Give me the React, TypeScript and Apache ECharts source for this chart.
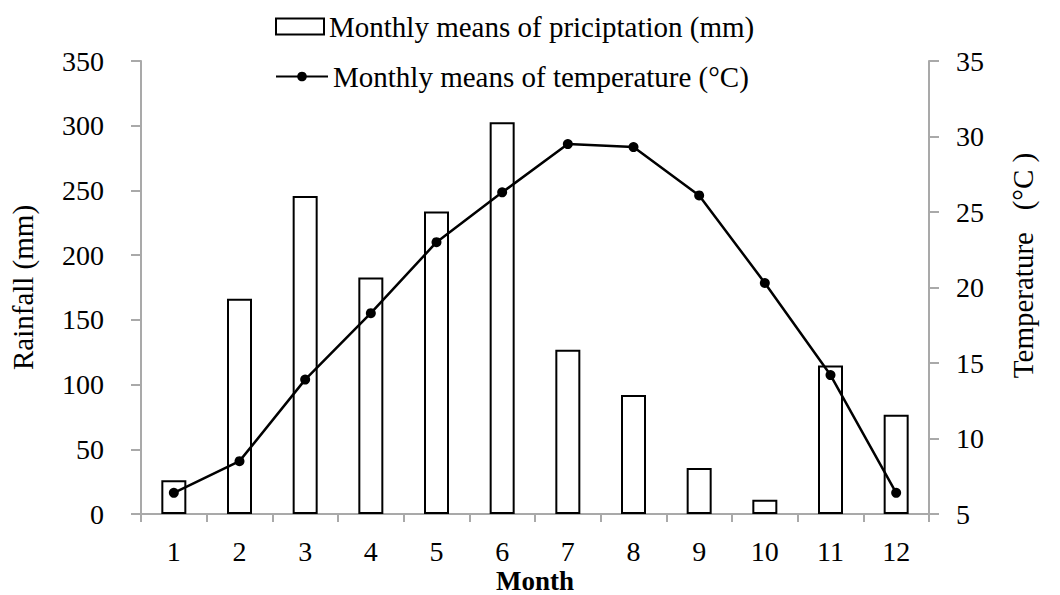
import React, { useEffect, useRef } from "react";
import * as echarts from "echarts";

const months = ["1", "2", "3", "4", "5", "6", "7", "8", "9", "10", "11", "12"];
const rainfall = [26, 166.4, 245.7, 182.8, 233.8, 302.6, 127, 91.9, 35.5, 11, 114.8, 76.7];
const temperature = [6.4, 8.5, 13.9, 18.3, 23.0, 26.3, 29.5, 29.3, 26.1, 20.3, 14.2, 6.4];
const rainName = "Monthly means of priciptation (mm)";
const tempName = "Monthly means of temperature (°C)";

const FONT = "'Liberation Serif', 'Times New Roman', serif";
const AXIS_GRAY = "#a9a9a9";

export default function App() {
  const ref = useRef<HTMLDivElement>(null);
  useEffect(() => {
    if (!ref.current) return;
    const chart = echarts.init(ref.current, undefined, { renderer: "svg" });
    chart.setOption({
      animation: false,
      backgroundColor: "#ffffff",
      textStyle: { fontFamily: FONT, color: "#000" },
      grid: {
        left: 141,
        right: 131,
        top: 61,
        bottom: 81,
        containLabel: false,
        outerBoundsMode: "none",
      },
      legend: [
        {
          data: [{ name: rainName, icon: "rect" }],
          left: 275,
          top: 12,
          padding: 0,
          itemWidth: 48,
          itemHeight: 16,
          textStyle: { fontFamily: FONT, fontSize: 29, color: "#000" },
          selectedMode: false,
        },
        {
          data: [{ name: tempName }],
          left: 275,
          top: 62,
          padding: 0,
          itemWidth: 52,
          itemHeight: 12,
          textStyle: { fontFamily: FONT, fontSize: 29, color: "#000" },
          selectedMode: false,
        },
      ],
      xAxis: {
        type: "category",
        data: months,
        boundaryGap: true,
        name: "Month",
        nameLocation: "middle",
        nameGap: 53,
        nameMoveOverlap: false,
        nameTextStyle: {
          fontFamily: FONT,
          fontSize: 27,
          lineHeight: 27,
          fontWeight: "bold",
          color: "#000",
        },
        axisLine: { lineStyle: { color: AXIS_GRAY, width: 2 } },
        axisTick: { show: true, length: 8, lineStyle: { color: AXIS_GRAY, width: 2 } },
        axisLabel: { fontFamily: FONT, fontSize: 28, color: "#000", margin: 23 },
        splitLine: { show: false },
      },
      yAxis: [
        {
          type: "value",
          min: 0,
          max: 350,
          interval: 50,
          position: "left",
          name: "Rainfall (mm)",
          nameLocation: "middle",
          nameRotate: 90,
          nameGap: 104,
          nameTextStyle: { fontFamily: FONT, fontSize: 29, color: "#000" },
          axisLine: { show: true, lineStyle: { color: AXIS_GRAY, width: 2 } },
          axisTick: { show: true, length: 10, lineStyle: { color: AXIS_GRAY, width: 2 } },
          axisLabel: { fontFamily: FONT, fontSize: 28, color: "#000", margin: 37 },
          splitLine: { show: false },
        },
        {
          type: "value",
          min: 5,
          max: 35,
          interval: 5,
          position: "right",
          name: "Temperature   (°C )",
          nameLocation: "middle",
          nameRotate: 90,
          nameGap: 79,
          nameTextStyle: { fontFamily: FONT, fontSize: 29, color: "#000", padding: [0, 0, 0, 44] },
          axisLine: { show: true, lineStyle: { color: AXIS_GRAY, width: 2 } },
          axisTick: { show: true, length: 10, lineStyle: { color: AXIS_GRAY, width: 2 } },
          axisLabel: { fontFamily: FONT, fontSize: 28, color: "#000", margin: 27 },
          splitLine: { show: false },
        },
      ],
      series: [
        {
          name: rainName,
          type: "bar",
          yAxisIndex: 0,
          data: rainfall,
          barWidth: 25,
          itemStyle: { color: "#ffffff", borderColor: "#000000", borderWidth: 2 },
        },
        {
          name: tempName,
          type: "line",
          yAxisIndex: 1,
          data: temperature,
          symbol: "circle",
          symbolSize: 10,
          lineStyle: { color: "#000", width: 2.5 },
          itemStyle: { color: "#000" },
        },
      ],
    });
    return () => chart.dispose();
  }, []);
  return (
    <div
      ref={ref}
      style={{ position: "fixed", left: 0, top: 0, width: 1060, height: 595 }}
    />
  );
}
